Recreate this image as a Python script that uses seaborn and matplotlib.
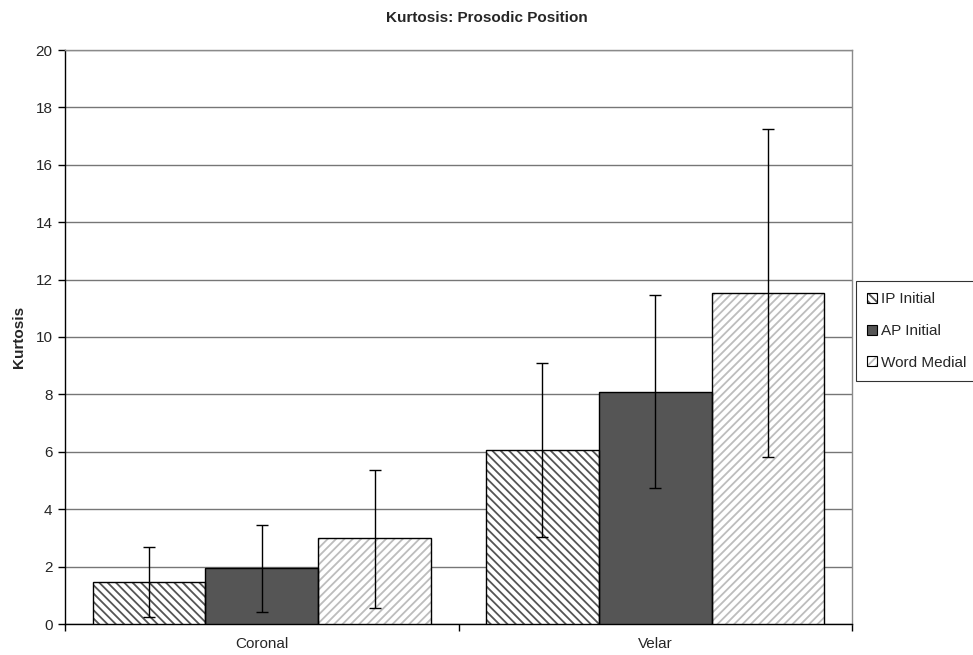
import matplotlib
matplotlib.use("Agg")
import matplotlib.pyplot as plt
import seaborn as sns
import pandas as pd
import numpy as np
from matplotlib.patches import Rectangle, Patch
from matplotlib.legend_handler import HandlerTuple

categories = ["Coronal", "Velar"]
series = ["IP Initial", "AP Initial", "Word Medial"]
ip_initial = [1.45, 6.06]
ap_initial = [1.96, 8.09]
word_medial = [2.98, 11.52]
ip_err_low = [0.23, 3.04]
ip_err_high = [2.69, 9.10]
ap_err_low = [0.43, 4.75]
ap_err_high = [3.45, 11.45]
wm_err_low = [0.55, 5.82]
wm_err_high = [5.37, 17.25]
y_ticks = [0, 2, 4, 6, 8, 10, 12, 14, 16, 18, 20]

sns.set_theme(style="white")
plt.rcParams['font.family'] = ['Liberation Sans', 'DejaVu Sans']
plt.rcParams['hatch.linewidth'] = 1.3

values = [ip_initial, ap_initial, word_medial]
lows = [ip_err_low, ap_err_low, wm_err_low]
highs = [ip_err_high, ap_err_high, wm_err_high]
rows = []
for s, vals in zip(series, values):
    for c, v in zip(categories, vals):
        rows.append({"cat": c, "series": s, "val": v})
df = pd.DataFrame(rows)

fills = {"IP Initial": "white", "AP Initial": "#555555", "Word Medial": "white"}
hatches = {"IP Initial": "\\\\\\\\", "AP Initial": "", "Word Medial": "////"}
hatchcols = {"IP Initial": "#555555", "AP Initial": "#555555", "Word Medial": "#bdbdbd"}

FS = 11

fig = plt.figure(figsize=(9.73, 6.55), dpi=100)
ax = fig.add_axes([65/973, 31/655, (852-65)/973, (624-50)/655])

sns.barplot(data=df, x="cat", y="val", hue="series", order=categories,
            hue_order=series, palette=fills, width=0.86, gap=0,
            errorbar=None, legend=False, ax=ax, zorder=3)

# patches are ordered by hue then category
for si, s in enumerate(series):
    for ci, c in enumerate(categories):
        p = ax.patches[si * len(categories) + ci]
        p.set_hatch(hatches[s])
        p.set_edgecolor(hatchcols[s])
        p.set_linewidth(0)
        x0, y0 = p.get_xy()
        w, h = p.get_width(), p.get_height()
        ax.add_patch(Rectangle((x0, y0), w, h, fill=False, edgecolor="black",
                               linewidth=1.0, zorder=4))
        xc = x0 + w / 2
        v = values[si][ci]
        ax.errorbar([xc], [v],
                    yerr=[[v - lows[si][ci]], [highs[si][ci] - v]],
                    fmt="none", ecolor="black", elinewidth=1.0,
                    capsize=4, capthick=1.0, zorder=5)

ax.set_ylim(0, 20)
ax.set_xlim(-0.5, 1.5)
ax.set_yticks(y_ticks)
ax.set_yticklabels([str(t) for t in y_ticks], fontsize=FS)
ax.yaxis.grid(True, color="#767676", linewidth=1.0, zorder=0)
ax.set_axisbelow(True)
ax.tick_params(axis="y", left=True, length=5, width=1, color="black", direction="out", pad=4)
ax.set_xticks([0, 1])
ax.set_xticklabels(categories, fontsize=FS)
ax.tick_params(axis="x", which="major", bottom=False, length=0, pad=9)
ax.set_xticks([-0.5, 0.5, 1.5], minor=True)
ax.tick_params(axis="x", which="minor", bottom=True, length=5, width=1, color="black", direction="out")
ax.set_xlabel("")
ax.set_ylabel("Kurtosis", fontsize=FS, fontweight="bold", labelpad=7)

for side in ["left", "bottom"]:
    ax.spines[side].set_color("black")
    ax.spines[side].set_linewidth(1.0)
for side in ["top", "right"]:
    ax.spines[side].set_color("#8a8a8a")
    ax.spines[side].set_linewidth(1.0)

handles = [(Patch(facecolor=fills[s], edgecolor=hatchcols[s], hatch=hatches[s],
                  linewidth=0),
            Patch(facecolor="none", edgecolor="black", linewidth=0.8))
           for s in series]
leg = fig.legend(handles, series, loc="upper left",
                 bbox_to_anchor=(856/973, 1 - 281/655), fontsize=FS,
                 frameon=True, fancybox=False, edgecolor="black",
                 handlelength=0.65, handleheight=0.65, handletextpad=0.25,
                 labelspacing=1.15, borderpad=0.75, borderaxespad=0,
                 handler_map={tuple: HandlerTuple(ndivide=1, pad=0)})
leg.get_frame().set_linewidth(0.8)

fig.suptitle("Kurtosis: Prosodic Position", x=0.5, y=1 - 11/655, va="top",
             fontsize=FS, fontweight="bold")

fig.savefig("out.png", dpi=100, facecolor="white")
